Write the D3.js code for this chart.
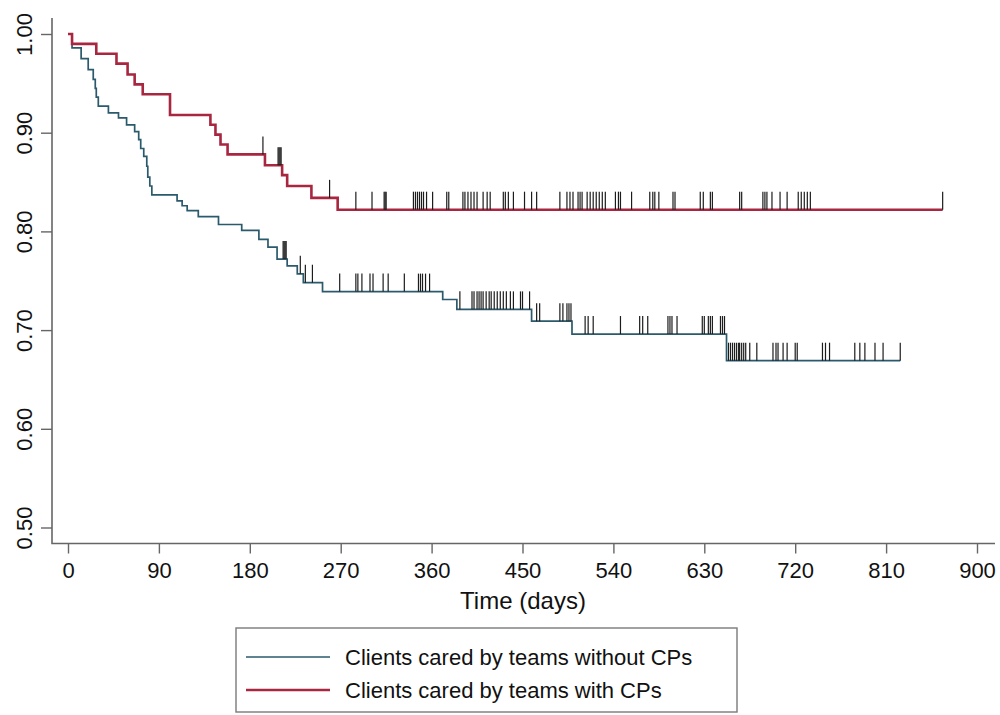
<!DOCTYPE html>
<html>
<head>
<meta charset="utf-8">
<script src="https://cdn.jsdelivr.net/npm/d3@7"></script>
<style>
  html, body { margin: 0; padding: 0; background: #ffffff; }
  svg { display: block; }
  text { font-family: "Liberation Sans", Arial, Helvetica, sans-serif; fill: #111111; }
</style>
</head>
<body>
<svg id="chart" width="1000" height="715"></svg>
<script>
// ---------------- DATA ----------------
const xTicks = [0, 90, 180, 270, 360, 450, 540, 630, 720, 810, 900];
const yTicks = [0.5, 0.6, 0.7, 0.8, 0.9, 1.0];
const xLabel = "Time (days)";
const seriesNames = ["Clients cared by teams without CPs", "Clients cared by teams with CPs"];

// Teams without CPs: step times (days) and survival after each step
const noCpDays = [0, 4, 13, 20, 25, 27, 28, 30, 40, 50, 58, 66, 70, 72, 75, 78, 79, 81, 83,
  108, 113, 118, 129, 149, 172, 189, 198, 207, 217, 227, 233, 252, 371, 385, 459, 499, 652];
const noCpSurv = [1.000, 0.986, 0.975, 0.964, 0.954, 0.945, 0.936, 0.927, 0.920, 0.915, 0.908,
  0.901, 0.893, 0.884, 0.876, 0.866, 0.855, 0.846, 0.837, 0.831, 0.826, 0.821, 0.815, 0.807,
  0.801, 0.792, 0.784, 0.772, 0.765, 0.757, 0.748, 0.739, 0.731, 0.721, 0.709, 0.696, 0.669];
const noCpEnd = 824;
const noCpCensored = [213, 214, 215, 216, 230, 235, 242, 269, 285, 287, 291, 299, 302, 312, 317,
  333, 347, 349, 351, 354, 358, 388, 400, 402, 405, 407, 409, 411, 414, 417, 419, 422, 425, 428,
  431, 434, 438, 441, 448, 450, 457, 464, 467, 487, 490, 494, 496, 498, 512, 515, 520, 547, 566,
  569, 574, 594, 596, 598, 603, 628, 630, 634, 636, 638, 646, 648, 650, 654, 656, 658, 660, 662,
  664, 665, 667, 669, 671, 675, 682, 698, 701, 703, 708, 712, 720, 722, 747, 750, 754, 779, 784,
  789, 799, 807, 824];

// Teams with CPs
const cpDays = [0, 4, 28, 48, 59, 66, 74, 101, 141, 146, 151, 158, 195, 212, 217, 241, 267];
const cpSurv = [1.000, 0.990, 0.980, 0.970, 0.959, 0.949, 0.939, 0.918, 0.908, 0.898, 0.888,
  0.878, 0.867, 0.857, 0.846, 0.834, 0.822];
const cpEnd = 866;
const cpCensored = [193, 208, 209, 210, 211, 259, 285, 301, 313, 314, 315, 342, 344, 346, 348,
  350, 352, 355, 361, 375, 377, 391, 393, 396, 399, 402, 405, 411, 415, 418, 431, 433, 436, 441,
  452, 459, 464, 487, 494, 497, 500, 505, 507, 509, 514, 517, 520, 523, 526, 529, 532, 542, 545,
  547, 558, 576, 579, 581, 585, 599, 601, 626, 629, 636, 638, 665, 667, 688, 690, 692, 697, 705,
  712, 723, 726, 729, 732, 735, 866];

const colors = ["#2b5a6c", "#a8263f"];

// ---------------- CHART ----------------
const svg = d3.select("#chart");
const x = d3.scaleLinear().domain([0, 900]).range([68, 977]);
const y = d3.scaleLinear().domain([0.5, 1.0]).range([527.5, 34]);
const axisColor = "#666666";

// axis lines
svg.append("path").attr("d", "M52,18 L52,543.5 L995,543.5")
  .attr("fill", "none").attr("stroke", axisColor).attr("stroke-width", 1.6);

// x axis
const gx = svg.append("g").attr("transform", "translate(0,543.5)")
  .call(d3.axisBottom(x).tickValues(xTicks).tickSize(10).tickPadding(9).tickFormat(d3.format("d")));
gx.select(".domain").remove();
gx.selectAll(".tick line").attr("stroke", axisColor).attr("stroke-width", 1.4);
gx.selectAll(".tick text").attr("font-size", 22).attr("fill", "#111111")
  .style("font-family", '"Liberation Sans", Arial, sans-serif');

// y axis
const gy = svg.append("g").attr("transform", "translate(52,0)")
  .call(d3.axisLeft(y).tickValues(yTicks).tickSize(11).tickFormat(d3.format(".2f")));
gy.select(".domain").remove();
gy.selectAll(".tick line").attr("stroke", axisColor).attr("stroke-width", 1.4);
gy.selectAll(".tick text")
  .attr("font-size", 22).attr("fill", "#111111")
  .style("font-family", '"Liberation Sans", Arial, sans-serif')
  .attr("text-anchor", "middle")
  .attr("x", 0).attr("y", -20).attr("dy", 0)
  .attr("transform", "rotate(-90)");

// x axis title
svg.append("text").attr("x", 523).attr("y", 609).attr("text-anchor", "middle")
  .attr("font-size", 24).text(xLabel);

// step curves
function stepFn(days, surv) {
  return t => {
    let v = surv[0];
    for (let i = 0; i < days.length; i++) { if (days[i] <= t) v = surv[i]; else break; }
    return v;
  };
}
const series = [
  { days: noCpDays, surv: noCpSurv, end: noCpEnd, cens: noCpCensored, color: colors[0], width: 1.7 },
  { days: cpDays, surv: cpSurv, end: cpEnd, cens: cpCensored, color: colors[1], width: 2.6 }
];
const line = d3.line().x(d => x(d[0])).y(d => y(d[1])).curve(d3.curveStepAfter);

series.forEach(s => {
  const pts = s.days.map((d, i) => [d, s.surv[i]]);
  pts.push([s.end, s.surv[s.surv.length - 1]]);
  svg.append("path").datum(pts).attr("d", line)
    .attr("fill", "none").attr("stroke", s.color).attr("stroke-width", s.width)
    .attr("stroke-linejoin", "miter");
});
series.forEach(s => {
  const S = stepFn(s.days, s.surv);
  svg.append("g").selectAll("line").data(s.cens).join("line")
    .attr("x1", d => x(d)).attr("x2", d => x(d))
    .attr("y1", d => y(S(d))).attr("y2", d => y(S(d)) - 18)
    .attr("stroke", "#1c1c1c").attr("stroke-width", 1.2);
});

// legend
const lg = svg.append("g");
lg.append("rect").attr("x", 236).attr("y", 628).attr("width", 501).attr("height", 84)
  .attr("fill", "#ffffff").attr("stroke", "#7a7a7a").attr("stroke-width", 1.4);
const legendRows = [657, 690];
seriesNames.forEach((name, i) => {
  lg.append("line").attr("x1", 246).attr("x2", 330).attr("y1", legendRows[i]).attr("y2", legendRows[i])
    .attr("stroke", colors[i]).attr("stroke-width", series[i].width);
  lg.append("text").attr("x", 345).attr("y", legendRows[i] + 8).attr("font-size", 22).text(name);
});
</script>
</body>
</html>
